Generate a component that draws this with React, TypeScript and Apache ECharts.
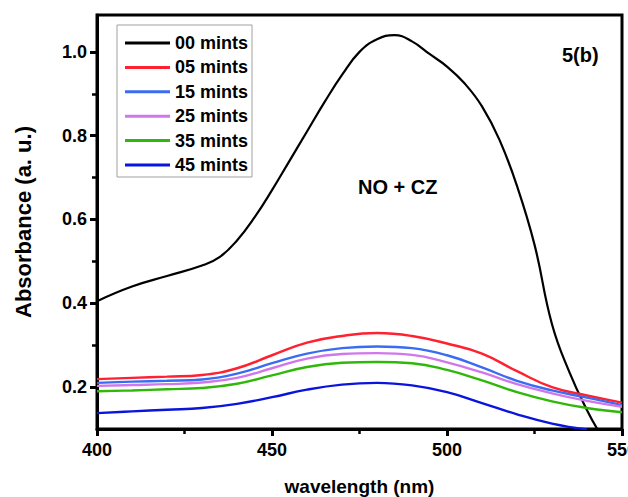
import React, { useEffect, useRef } from "react";
import * as echarts from "echarts";

// Wavelengths (nm) for the coloured curves
const wavelengths = [400, 410, 420, 430, 440, 450, 460, 470, 480, 490, 500, 510, 520, 530, 540, 550];
const min05 = [0.219, 0.222, 0.225, 0.229, 0.245, 0.276, 0.306, 0.322, 0.329, 0.322, 0.304, 0.280, 0.238, 0.200, 0.180, 0.163];
const min15 = [0.210, 0.213, 0.215, 0.218, 0.232, 0.257, 0.280, 0.293, 0.297, 0.293, 0.276, 0.247, 0.215, 0.192, 0.175, 0.157];
const min25 = [0.203, 0.205, 0.207, 0.211, 0.222, 0.245, 0.268, 0.279, 0.281, 0.277, 0.259, 0.235, 0.207, 0.185, 0.167, 0.153];
const min35 = [0.190, 0.192, 0.195, 0.198, 0.208, 0.228, 0.248, 0.258, 0.260, 0.257, 0.241, 0.216, 0.188, 0.166, 0.150, 0.140];
const min45 = [0.138, 0.142, 0.146, 0.150, 0.160, 0.176, 0.194, 0.206, 0.210, 0.204, 0.188, 0.162, 0.135, 0.113, 0.099, null];

// Black curve (00 mints) has its own wavelength grid
const wavelengths00 = [400, 410, 420, 430, 435, 440, 445, 450, 455, 460, 465, 470, 475, 480, 485, 490, 495, 500, 505, 510, 515, 520, 525, 530, 535, 540, 544];
const min00 = [0.405, 0.44, 0.465, 0.49, 0.51, 0.55, 0.605, 0.67, 0.74, 0.81, 0.88, 0.945, 1.0, 1.03, 1.04, 1.025, 0.995, 0.965, 0.925, 0.87, 0.79, 0.68, 0.54, 0.35, 0.235, 0.145, 0.085];

const seriesNames = ["00 mints", "05 mints", "15 mints", "25 mints", "35 mints", "45 mints"];
const seriesColors = ["#000000", "#ff2030", "#3a6cf2", "#d077ec", "#2fb80a", "#0a14dc"];

const xTicks = [400, 450, 500, 550];
const yLabels = [0.2, 0.4, 0.6, 0.8, 1.0];
const yMinor = [0.3, 0.5, 0.7, 0.9];

const FONT = "'Liberation Sans', Arial, sans-serif";

export default function App() {
  const ref = useRef<HTMLDivElement>(null);
  useEffect(() => {
    if (!ref.current) return;
    const chart = echarts.init(ref.current, null, { renderer: "svg" });
    const pair = (xs: number[], ys: (number | null)[]) => xs.map((x, i) => [x, ys[i]]);
    const allData = [
      pair(wavelengths00, min00),
      pair(wavelengths, min05),
      pair(wavelengths, min15),
      pair(wavelengths, min25),
      pair(wavelengths, min35),
      pair(wavelengths, min45),
    ];
    chart.setOption({
      animation: false,
      backgroundColor: "#ffffff",
      textStyle: { fontFamily: FONT },
      grid: {
        left: 97,
        right: 6,
        top: 15,
        bottom: 68,
        show: true,
        borderColor: "#000",
        borderWidth: 3,
        containLabel: false,
        outerBoundsMode: "none",
      },
      legend: {
        orient: "vertical",
        left: 117,
        top: 25,
        padding: [9, 4, 3, 8],
        icon: "rect",
        itemWidth: 45,
        itemHeight: 3,
        itemGap: 6.4,
        borderColor: "#a0a0a0",
        borderWidth: 1,
        data: seriesNames,
        textStyle: { fontFamily: FONT, fontSize: 18, fontWeight: "bold", color: "#000", lineHeight: 18 },
      },
      xAxis: {
        type: "value",
        min: xTicks[0],
        max: xTicks[xTicks.length - 1],
        interval: 50,
        name: "wavelength (nm)",
        nameLocation: "middle",
        nameGap: 48,
        nameTextStyle: { fontFamily: FONT, fontSize: 19, fontWeight: "bold", color: "#000" },
        axisLine: { show: true, lineStyle: { color: "#000", width: 3 } },
        axisTick: { show: true, inside: false, length: 7, lineStyle: { color: "#000", width: 3 } },
        minorTick: { show: true, splitNumber: 2, length: 5, lineStyle: { color: "#000", width: 2.5 } },
        axisLabel: { fontFamily: FONT, fontSize: 18, fontWeight: "bold", color: "#000", margin: 12 },
        splitLine: { show: false },
        minorSplitLine: { show: false },
      },
      yAxis: [
        {
          type: "value",
          min: 0.1,
          max: 1.088,
          name: "Absorbance (a. u.)",
          nameLocation: "middle",
          nameGap: 63,
          nameTextStyle: { fontFamily: FONT, fontSize: 22, fontWeight: "bold", color: "#000" },
          axisLine: { show: true, lineStyle: { color: "#000", width: 3 } },
          axisTick: { show: true, inside: false, length: 7, customValues: yLabels, lineStyle: { color: "#000", width: 3 } },
          axisLabel: {
            customValues: yLabels,
            fontFamily: FONT,
            fontSize: 18,
            fontWeight: "bold",
            color: "#000",
            margin: 10,
            formatter: (v: number) => v.toFixed(1),
          },
          splitLine: { show: false },
        },
        {
          type: "value",
          min: 0.1,
          max: 1.088,
          position: "left",
          axisLine: { show: false },
          axisTick: { show: true, inside: false, length: 5, customValues: yMinor, lineStyle: { color: "#000", width: 2.5 } },
          axisLabel: { show: false },
          splitLine: { show: false },
        },
      ],
      graphic: [
        {
          type: "text",
          left: 562,
          top: 45,
          style: { text: "5(b)", fontFamily: FONT, fontSize: 20, fontWeight: "bold", fill: "#000" },
        },
        {
          type: "text",
          left: 358,
          top: 177,
          style: { text: "NO + CZ", fontFamily: FONT, fontSize: 20, fontWeight: "bold", fill: "#000" },
        },
      ],
      series: allData.map((d, i) => ({
        name: seriesNames[i],
        type: "line",
        data: d,
        yAxisIndex: 0,
        symbol: "none",
        showSymbol: false,
        smooth: 0.45,
        clip: true,
        connectNulls: false,
        lineStyle: { color: seriesColors[i], width: i === 0 ? 2.2 : 2.4 },
        itemStyle: { color: seriesColors[i] },
      })),
    });
    return () => chart.dispose();
  }, []);
  return (
    <div
      ref={ref}
      style={{ position: "fixed", left: 0, top: 0, width: 628, height: 497, background: "#fff" }}
    />
  );
}
